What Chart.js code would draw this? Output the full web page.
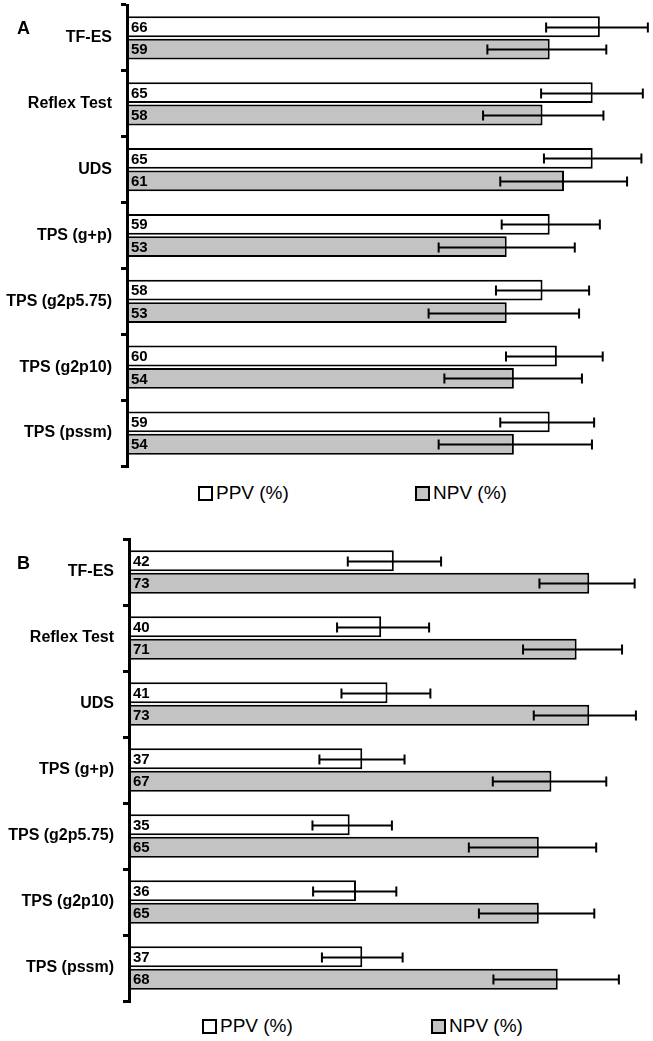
<!DOCTYPE html>
<html>
<head>
<meta charset="utf-8">
<script src="https://cdn.jsdelivr.net/npm/chart.js@4.4.1/dist/chart.umd.min.js"></script>
<style>
  html, body { margin: 0; padding: 0; background: #fff; }
  body { width: 653px; height: 1041px; position: relative; overflow: hidden; font-family: "Liberation Sans", Arial, sans-serif; }
  .panel { position: absolute; left: 0; }
  .letter { position: absolute; font-weight: bold; font-size: 18px; line-height: 18px; color: #000; }
  .leg { position: absolute; display: flex; align-items: center; font-size: 19px; line-height: 20px; color: #000; white-space: nowrap; }
  .leg .box { width: 11px; height: 11px; border: 2px solid #000; margin-right: 3px; box-sizing: content-box; }
</style>
</head>
<body>
<div class="panel" style="top:0;"><canvas id="chartA" width="653" height="475"></canvas></div>
<div class="panel" style="top:530px;"><canvas id="chartB" width="653" height="480"></canvas></div>
<div class="letter" style="left:17px; top:19px;">A</div>
<div class="letter" style="left:17px; top:554px;">B</div>
<div class="leg" style="left:198px; top:483px;"><span class="box" style="background:#fff"></span><span>PPV (%)</span></div>
<div class="leg" style="left:415px; top:483px;"><span class="box" style="background:#c3c3c3"></span><span>NPV (%)</span></div>
<div class="leg" style="left:202px; top:1016px;"><span class="box" style="background:#fff"></span><span>PPV (%)</span></div>
<div class="leg" style="left:431px; top:1016px;"><span class="box" style="background:#c3c3c3"></span><span>NPV (%)</span></div>
<script>
const categories = ['TF-ES', 'Reflex Test', 'UDS', 'TPS (g+p)', 'TPS (g2p5.75)', 'TPS (g2p10)', 'TPS (pssm)'];
const seriesNames = ['PPV (%)', 'NPV (%)'];

// Panel A
const ppvA = [66, 65, 65, 59, 58, 60, 59];
const npvA = [59, 58, 61, 53, 53, 54, 54];
const ppvALow = [58.5, 57.8, 58.2, 52.3, 51.5, 52.9, 52.1];
const ppvAHigh = [72.7, 72.0, 71.8, 66.0, 64.5, 66.4, 65.2];
const npvALow = [50.3, 49.7, 52.1, 43.5, 42.1, 44.3, 43.5];
const npvAHigh = [66.9, 66.5, 69.8, 62.5, 63.1, 63.5, 64.9];

// Panel B
const ppvB = [42, 40, 41, 37, 35, 36, 37];
const npvB = [73, 71, 73, 67, 65, 65, 68];
const ppvBLow = [34.7, 33.0, 33.7, 30.2, 29.1, 29.2, 30.6];
const ppvBHigh = [49.5, 47.6, 47.8, 43.7, 41.7, 42.4, 43.4];
const npvBLow = [65.1, 62.5, 64.2, 57.7, 53.9, 55.5, 57.8];
const npvBHigh = [80.2, 78.2, 80.4, 75.7, 74.1, 73.8, 77.7];

const FONT = '"Liberation Sans", Arial, sans-serif';

const errorBarPlugin = {
  id: 'errorBars',
  afterDatasetsDraw(chart) {
    const ctx = chart.ctx;
    const xs = chart.scales.x;
    chart.data.datasets.forEach((ds, i) => {
      const meta = chart.getDatasetMeta(i);
      meta.data.forEach((el, j) => {
        const lo = xs.getPixelForValue(ds.errLow[j]);
        const hi = xs.getPixelForValue(ds.errHigh[j]);
        const y = Math.round(el.y) + 0.5;
        ctx.save();
        ctx.strokeStyle = '#000';
        ctx.lineWidth = 2;
        ctx.beginPath();
        ctx.moveTo(lo, y); ctx.lineTo(hi, y);
        ctx.moveTo(lo, y - 5); ctx.lineTo(lo, y + 5);
        ctx.moveTo(hi, y - 5); ctx.lineTo(hi, y + 5);
        ctx.stroke();
        ctx.restore();
      });
    });
  }
};

const valueLabelPlugin = {
  id: 'valueLabels',
  afterDatasetsDraw(chart) {
    const ctx = chart.ctx;
    chart.data.datasets.forEach((ds, i) => {
      const meta = chart.getDatasetMeta(i);
      meta.data.forEach((el, j) => {
        ctx.save();
        ctx.fillStyle = '#000';
        ctx.font = 'bold 15px ' + FONT;
        ctx.textAlign = 'left';
        ctx.textBaseline = 'middle';
        ctx.fillText(String(ds.data[j]), el.base + 4, el.y + 1);
        ctx.restore();
      });
    });
  }
};

function makeChart(id, ppv, npv, ppvLo, ppvHi, npvLo, npvHi, xMax, axisWidth, pad) {
  return new Chart(document.getElementById(id), {
    type: 'bar',
    data: {
      labels: categories,
      datasets: [
        { label: seriesNames[0], data: ppv, errLow: ppvLo, errHigh: ppvHi,
          backgroundColor: '#ffffff', borderColor: '#000', borderWidth: 2, borderSkipped: false,
          categoryPercentage: 0.68, barPercentage: 0.93 },
        { label: seriesNames[1], data: npv, errLow: npvLo, errHigh: npvHi,
          backgroundColor: '#c3c3c3', borderColor: '#000', borderWidth: 2, borderSkipped: false,
          categoryPercentage: 0.68, barPercentage: 0.93 }
      ]
    },
    options: {
      indexAxis: 'y',
      responsive: false,
      animation: false,
      devicePixelRatio: 1,
      layout: { padding: pad },
      plugins: { legend: { display: false }, tooltip: { enabled: false } },
      scales: {
        x: { display: false, min: 0, max: xMax },
        y: {
          offset: true,
          afterFit(scale) { scale.width = axisWidth; scale.paddingTop = 0; scale.paddingBottom = 0; },
          border: { display: true, width: 3, color: '#000' },
          grid: { display: true, offset: true, drawOnChartArea: false, drawTicks: true,
                  tickLength: 6, tickWidth: 3, tickColor: '#000', color: '#000', lineWidth: 3 },
          ticks: { color: '#000', padding: 9, font: { family: FONT, size: 16, weight: 'bold' } }
        }
      }
    },
    plugins: [errorBarPlugin, valueLabelPlugin]
  });
}

makeChart('chartA', ppvA, npvA, ppvALow, ppvAHigh, npvALow, npvAHigh, 73, 127, { top: 5, bottom: 9, left: 0, right: 3 });
makeChart('chartB', ppvB, npvB, ppvBLow, ppvBHigh, npvBLow, npvBHigh, 82, 129, { top: 9, bottom: 9, left: 0, right: 7 });
</script>
</body>
</html>
